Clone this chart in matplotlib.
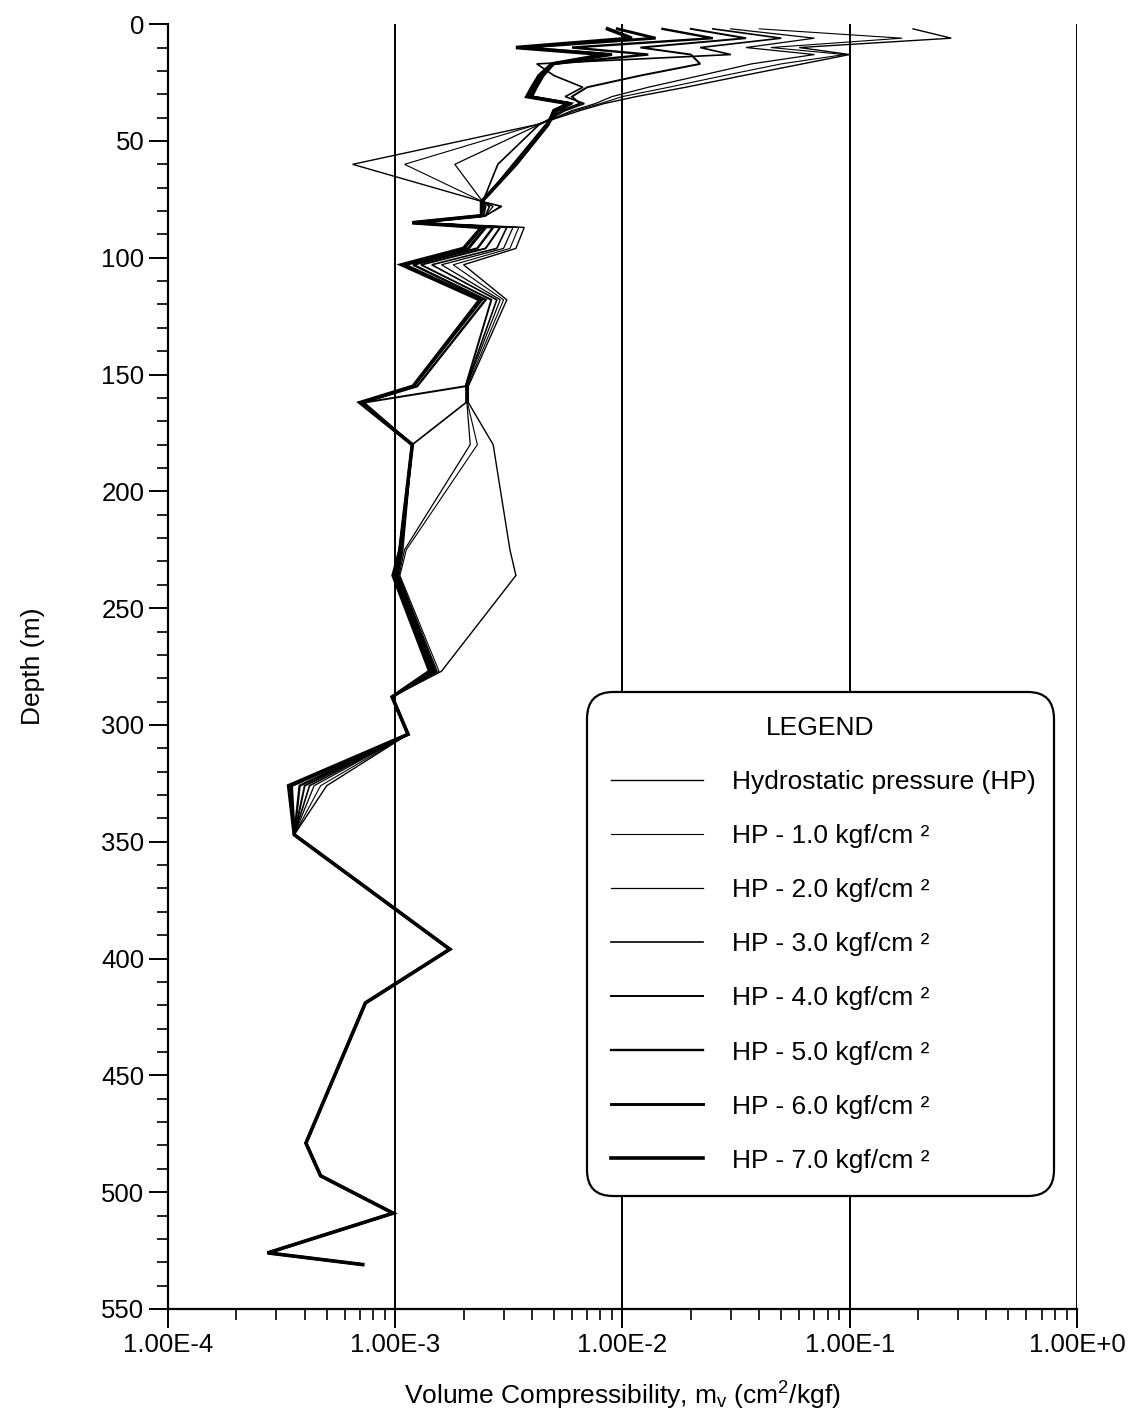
import matplotlib.pyplot as plt
from matplotlib.ticker import MultipleLocator, LogLocator, NullFormatter

plt.rcParams['font.family'] = ['Liberation Sans', 'DejaVu Sans']
plt.rcParams['mathtext.fontset'] = 'custom'
plt.rcParams['mathtext.rm'] = 'Liberation Sans'
plt.rcParams['mathtext.it'] = 'Liberation Sans:italic'

# sample depths (m), shared by every curve
depth = [2, 6, 10, 13, 17, 22, 27, 31, 34, 37,
         43, 60, 76, 78, 82, 85, 87, 96, 103, 118,
         155, 162, 180, 225, 236, 277, 288, 304, 326, 347,
         396, 419, 479, 493, 509, 526, 531]

# volume compressibility mv (cm2/kgf), one list per pressure step
hp0 = [0.19, 0.28, 0.06, 0.10, 0.062, 0.034, 0.019, 0.0115, 8.3e-3, 6.5e-3,
       4.2e-3, 6.5e-4, 2.43e-3, 2.95e-3, 2.5e-3, 1.3e-3, 3.7e-3, 3.4e-3, 2.0e-3, 3.1e-3,
       2.1e-3, 2.1e-3, 2.7e-3, 3.2e-3, 3.4e-3, 1.6e-3, 9.7e-4, 1.14e-3, 5.0e-4, 3.6e-4,
       1.74e-3, 7.4e-4, 4.05e-4, 4.7e-4, 9.8e-4, 2.75e-4, 7.2e-4]
hp1 = [0.04, 0.17, 0.045, 0.095, 0.05, 0.028, 0.016, 0.010, 8.0e-3, 6.2e-3,
       4.2e-3, 1.1e-3, 2.43e-3, 2.9e-3, 2.5e-3, 1.27e-3, 3.5e-3, 3.2e-3, 1.8e-3, 3.0e-3,
       2.08e-3, 2.08e-3, 2.3e-3, 1.12e-3, 1.05e-3, 1.56e-3, 9.7e-4, 1.14e-3, 4.7e-4, 3.6e-4,
       1.74e-3, 7.4e-4, 4.05e-4, 4.7e-4, 9.8e-4, 2.75e-4, 7.2e-4]
hp2 = [0.03, 0.07, 0.035, 0.07, 0.037, 0.022, 0.013, 9.0e-3, 7.6e-3, 6.0e-3,
       4.3e-3, 1.83e-3, 2.43e-3, 2.7e-3, 2.5e-3, 1.25e-3, 3.3e-3, 3.0e-3, 1.6e-3, 2.9e-3,
       2.06e-3, 2.07e-3, 2.14e-3, 1.1e-3, 1.04e-3, 1.53e-3, 9.7e-4, 1.14e-3, 4.4e-4, 3.6e-4,
       1.74e-3, 7.4e-4, 4.05e-4, 4.7e-4, 9.8e-4, 2.75e-4, 7.2e-4]
hp3 = [0.025, 0.05, 0.022, 0.03, 4.2e-3, 5.0e-3, 6.7e-3, 5.6e-3, 6.8e-3, 5.6e-3,
       4.3e-3, 2.83e-3, 2.43e-3, 2.6e-3, 2.5e-3, 1.23e-3, 3.1e-3, 2.8e-3, 1.45e-3, 2.8e-3,
       2.05e-3, 2.05e-3, 1.19e-3, 1.08e-3, 1.03e-3, 1.51e-3, 9.7e-4, 1.14e-3, 4.2e-4, 3.6e-4,
       1.74e-3, 7.4e-4, 4.05e-4, 4.7e-4, 9.8e-4, 2.75e-4, 7.2e-4]
hp4 = [0.02, 0.035, 0.012, 0.02, 0.022, 0.012, 7.0e-3, 6.0e-3, 6.5e-3, 5.4e-3,
       4.6e-3, 3.3e-3, 2.42e-3, 2.5e-3, 2.45e-3, 1.21e-3, 2.9e-3, 2.5e-3, 1.3e-3, 2.65e-3,
       2.04e-3, 7.3e-4, 1.19e-3, 1.07e-3, 1.02e-3, 1.49e-3, 9.7e-4, 1.14e-3, 4.0e-4, 3.6e-4,
       1.74e-3, 7.4e-4, 4.05e-4, 4.7e-4, 9.8e-4, 2.75e-4, 7.2e-4]
hp5 = [0.015, 0.025, 6.0e-3, 0.013, 5.0e-3, 4.5e-3, 4.2e-3, 4.0e-3, 6.0e-3, 5.2e-3,
       4.7e-3, 3.4e-3, 2.4e-3, 2.45e-3, 2.4e-3, 1.2e-3, 2.7e-3, 2.3e-3, 1.2e-3, 2.5e-3,
       1.25e-3, 7.2e-4, 1.19e-3, 1.06e-3, 1.01e-3, 1.47e-3, 9.7e-4, 1.14e-3, 3.8e-4, 3.6e-4,
       1.74e-3, 7.4e-4, 4.05e-4, 4.7e-4, 9.8e-4, 2.75e-4, 7.2e-4]
hp6 = [9.5e-3, 0.014, 3.6e-3, 9.0e-3, 4.9e-3, 4.4e-3, 4.1e-3, 3.9e-3, 5.9e-3, 5.0e-3,
       4.7e-3, 3.4e-3, 2.4e-3, 2.4e-3, 2.4e-3, 1.19e-3, 2.5e-3, 2.1e-3, 1.1e-3, 2.4e-3,
       1.2e-3, 7.1e-4, 1.19e-3, 1.05e-3, 1.0e-3, 1.44e-3, 9.7e-4, 1.14e-3, 3.5e-4, 3.6e-4,
       1.74e-3, 7.4e-4, 4.05e-4, 4.7e-4, 9.8e-4, 2.75e-4, 7.2e-4]
hp7 = [8.6e-3, 0.011, 3.4e-3, 8.4e-3, 4.9e-3, 4.3e-3, 4.0e-3, 3.8e-3, 5.8e-3, 5.0e-3,
       4.7e-3, 3.4e-3, 2.4e-3, 2.4e-3, 2.4e-3, 1.19e-3, 2.4e-3, 2.0e-3, 1.07e-3, 2.36e-3,
       1.2e-3, 7.0e-4, 1.19e-3, 1.05e-3, 0.98e-3, 1.42e-3, 9.7e-4, 1.14e-3, 3.4e-4, 3.6e-4,
       1.74e-3, 7.4e-4, 4.05e-4, 4.7e-4, 9.8e-4, 2.75e-4, 7.2e-4]

series = [hp0, hp1, hp2, hp3, hp4, hp5, hp6, hp7]
labels = ['Hydrostatic pressure (HP)',
          'HP - 1.0 kgf/cm \u00b2', 'HP - 2.0 kgf/cm \u00b2', 'HP - 3.0 kgf/cm \u00b2',
          'HP - 4.0 kgf/cm \u00b2', 'HP - 5.0 kgf/cm \u00b2', 'HP - 6.0 kgf/cm \u00b2',
          'HP - 7.0 kgf/cm \u00b2']
widths = [1.0, 0.8, 0.9, 1.2, 1.4, 1.7, 2.1, 2.6]

xticks = [1e-4, 1e-3, 1e-2, 1e-1, 1.0]
xticklabels = ['1.00E-4', '1.00E-3', '1.00E-2', '1.00E-1', '1.00E+0']

fig = plt.figure(figsize=(11.42, 14.22), dpi=100)
ax = fig.add_axes([0.147, 0.0795, 0.796, 0.9035])

for vals, lab, lw in zip(series, labels, widths):
    ax.plot(vals, depth, color='black', lw=lw, label=lab, solid_joinstyle='miter')

ax.set_xscale('log')
ax.set_xlim(1e-4, 1.0)
ax.set_ylim(550, 0)

ax.set_xticks(xticks)
ax.set_xticklabels(xticklabels)
ax.xaxis.set_minor_locator(LogLocator(base=10, subs=range(2, 10)))
ax.xaxis.set_minor_formatter(NullFormatter())
ax.yaxis.set_major_locator(MultipleLocator(50))
ax.yaxis.set_minor_locator(MultipleLocator(10))

ax.grid(True, axis='x', which='major', color='black', lw=1.4)
ax.set_axisbelow(True)

for s in ['top', 'right']:
    ax.spines[s].set_visible(False)
for s in ['left', 'bottom']:
    ax.spines[s].set_linewidth(1.6)

ax.tick_params(which='major', direction='out', length=14, width=1.4,
               labelsize=18.5, pad=3)
ax.tick_params(which='minor', direction='out', length=8, width=1.2)

ax.set_xlabel('Volume Compressibility, m$_\\mathrm{v}$ (cm$^\\mathrm{2}$/kgf)', fontsize=19)
ax.set_ylabel('Depth (m)', fontsize=19)
ax.xaxis.set_label_coords(0.5, -0.055)
ax.yaxis.set_label_coords(-0.135, 0.5)

leg = ax.legend(title='LEGEND', loc='upper left',
                bbox_to_anchor=(0.461, 0.088, 0.514, 0.392), mode='expand',
                borderaxespad=0, fontsize=19, title_fontsize=19, handlelength=3.5,
                handletextpad=1.1, labelspacing=1.14, borderpad=0.9,
                frameon=True, fancybox=True, framealpha=1)
frame = leg.get_frame()
frame.set_boxstyle('round', pad=0, rounding_size=1.0)
frame.set_edgecolor('black')
frame.set_linewidth(1.6)

fig.savefig('out.png', dpi=100)
